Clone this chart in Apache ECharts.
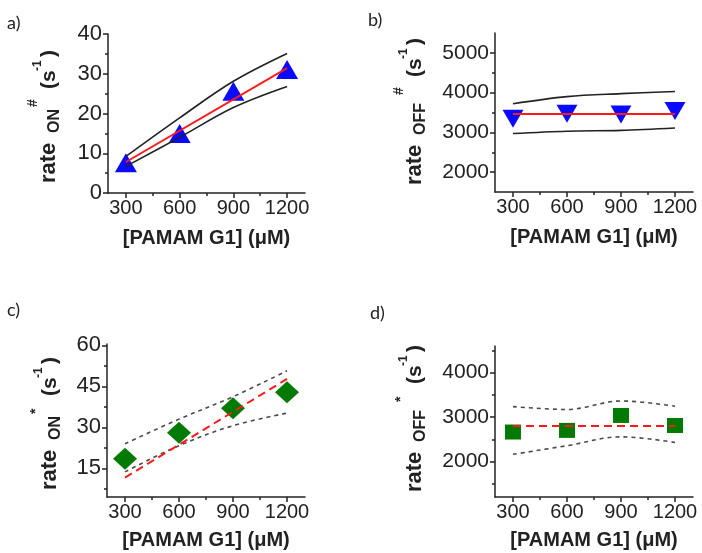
<!DOCTYPE html>
<html>
<head>
<meta charset="utf-8">
<script src="https://cdn.jsdelivr.net/npm/echarts@6/dist/echarts.min.js"></script>
<style>
  html, body { margin: 0; padding: 0; background: #fff; }
  #chart { width: 702px; height: 553px; }
</style>
</head>
<body>
<div id="chart"></div>
<script>
// PAMAM G1 concentrations (µM)
const concentrations = [300, 600, 900, 1200];
const fitEnds = [300, 1200];
const xMajorTicks = [300, 600, 900, 1200];
const xMinorTicks = [450, 750, 1050];

// (a) rate_ON^#
const onHashRates = [7.6, 15.0, 25.6, 31.1];
const onHashFit = [7.8, 31.4];
const onHashUpper = [9.2, 18.9, 28.1, 35.1];
const onHashLower = [6.7, 14.0, 21.5, 26.8];
const onHashMajorTicks = [0, 10, 20, 30, 40];
const onHashMinorTicks = [5, 15, 25, 35];

// (b) rate_OFF^#
const offHashRates = [3345, 3470, 3450, 3540];
const offHashFit = [3460, 3460];
const offHashUpper = [3720, 3900, 3975, 4030];
const offHashLower = [2970, 3030, 3050, 3110];
const offHashMajorTicks = [2000, 3000, 4000, 5000];
const offHashMinorTicks = [2500, 3500, 4500];

// (c) rate_ON^*
const onStarRates = [18.5, 28.0, 37.0, 42.8];
const onStarFit = [11.6, 47.7];
const onStarUpper = [24.0, 33.0, 41.2, 50.7];
const onStarLower = [13.7, 23.3, 30.6, 35.2];
const onStarMajorTicks = [15, 30, 45, 60];
const onStarMinorTicks = [7.5, 22.5, 37.5, 52.5];

// (d) rate_OFF^*
const offStarRates = [2663, 2700, 3036, 2810];
const offStarFit = [2800, 2800];
const offStarUpper = [3236, 3170, 3363, 3245];
const offStarLower = [2161, 2355, 2555, 2429];
const offStarMajorTicks = [2000, 3000, 4000];
const offStarMinorTicks = [1500, 2500, 3500, 4500];

const INK = '#222';
const TICK_FONT = '"Liberation Sans", Arial, sans-serif';
const plain = v => String(v);

const grids = [], xAxes = [], yAxes = [], series = [];

const pairs = (xs, ys) => xs.map((x, i) => [x, ys[i]]);

function addPanel(p) {
  const g = grids.length;
  grids.push({ left: p.box[0], top: p.box[1], width: p.box[2], height: p.box[3], containLabel: false });
  const ax = xAxes.length, ay = yAxes.length;
  // major x axis
  xAxes.push({
    type: 'value', gridIndex: g, position: 'bottom', min: 200, max: 1300,
    name: '[PAMAM G1] (\u03bcM)', nameLocation: 'middle', nameGap: p.nameGap, nameMoveOverlap: false,
    nameTextStyle: { fontFamily: TICK_FONT, fontWeight: 'bold', fontSize: 20, color: INK },
    axisLine: { lineStyle: { color: INK, width: 1.5 } },
    axisTick: { show: true, inside: false, length: 5, customValues: xMajorTicks, lineStyle: { color: INK, width: 1.5 } },
    axisLabel: { customValues: xMajorTicks, formatter: plain, fontFamily: TICK_FONT, fontSize: 20, color: INK, margin: 5 },
    splitLine: { show: false }
  });
  // minor x ticks
  xAxes.push({
    type: 'value', gridIndex: g, position: 'bottom', min: 200, max: 1300,
    axisLine: { show: false },
    axisTick: { show: true, length: 3, customValues: xMinorTicks, lineStyle: { color: INK, width: 1.5 } },
    axisLabel: { show: false }, splitLine: { show: false }
  });
  // major y axis
  yAxes.push({
    type: 'value', gridIndex: g, position: 'left', min: p.yMin, max: p.yMax,
    axisLine: { show: true, lineStyle: { color: INK, width: 1.5 } },
    axisTick: { show: true, length: 5, customValues: p.yMajor, lineStyle: { color: INK, width: 1.5 } },
    axisLabel: { customValues: p.yMajor, formatter: plain, fontFamily: TICK_FONT, fontSize: p.yFont, color: INK, margin: 6 },
    splitLine: { show: false }
  });
  // minor y ticks
  yAxes.push({
    type: 'value', gridIndex: g, position: 'left', min: p.yMin, max: p.yMax,
    axisLine: { show: false },
    axisTick: { show: true, length: 3, customValues: p.yMinor, lineStyle: { color: INK, width: 1.5 } },
    axisLabel: { show: false }, splitLine: { show: false }
  });

  series.push({
    type: 'scatter', xAxisIndex: ax, yAxisIndex: ay, z: 2,
    symbol: p.symbol, symbolSize: p.symbolSize, symbolRotate: p.symbolRotate || 0,
    itemStyle: { color: p.color, opacity: 1 },
    data: pairs(concentrations, p.rates)
  });
  [p.upper, p.lower].forEach(band => series.push({
    type: 'line', xAxisIndex: ax, yAxisIndex: ay, z: 3, smooth: 0.35,
    symbol: 'none', silent: true,
    lineStyle: { color: p.dashed ? '#4a4a4a' : INK, width: 1.6, type: p.dashed ? [4, 4] : 'solid' },
    data: pairs(concentrations, band)
  }));
  series.push({
    type: 'line', xAxisIndex: ax, yAxisIndex: ay, z: 4,
    symbol: 'none', silent: true,
    lineStyle: { color: '#ff1a1a', width: 2, type: p.dashed ? [8, 5] : 'solid' },
    data: pairs(fitEnds, p.fit)
  });
}

addPanel({ box: [108, 34, 197, 159], yMin: 0, yMax: 40, yMajor: onHashMajorTicks, yMinor: onHashMinorTicks,
  yFont: 22, nameGap: 35, rates: onHashRates, fit: onHashFit, upper: onHashUpper, lower: onHashLower,
  symbol: 'triangle', symbolSize: [22, 19], color: '#0a0aff', dashed: false });
addPanel({ box: [495, 33, 198, 159], yMin: 1500, yMax: 5500, yMajor: offHashMajorTicks, yMinor: offHashMinorTicks,
  yFont: 21, nameGap: 35, rates: offHashRates, fit: offHashFit, upper: offHashUpper, lower: offHashLower,
  symbol: 'triangle', symbolRotate: 180, symbolSize: [21, 18], color: '#0a0aff', dashed: false });
addPanel({ box: [107, 344, 198, 153], yMin: 4.5, yMax: 60.5, yMajor: onStarMajorTicks, yMinor: onStarMinorTicks,
  yFont: 22, nameGap: 33, rates: onStarRates, fit: onStarFit, upper: onStarUpper, lower: onStarLower,
  symbol: 'diamond', symbolSize: [24, 22], color: '#037a03', dashed: true });
addPanel({ box: [495, 346, 198, 151], yMin: 1200, yMax: 4600, yMajor: offStarMajorTicks, yMinor: offStarMinorTicks,
  yFont: 21, nameGap: 33, rates: offStarRates, fit: offStarFit, upper: offStarUpper, lower: offStarLower,
  symbol: 'rect', symbolSize: [16, 15], color: '#037a03', dashed: true });

// rotated y-axis titles: rate_{sub}^{sup} (s^-1)
function yTitle(x, y, sub, sup, subLen) {
  const font = s => `bold ${s}px "Liberation Sans", Arial, sans-serif`;
  const part = (text, lx, ly, size) => ({
    type: 'text', x: lx, y: ly,
    style: { text, font: font(size), fill: INK, align: 'left', verticalAlign: 'middle' }
  });
  const supX = 50 + subLen + 2;
  const parX = supX + 18;
  return {
    type: 'group', x, y, rotation: Math.PI / 2,
    children: [
      part('rate', 0, 0, 22),
      part(sub, 50, 6, 16),
      part(sup, supX, sup === '*' ? -14 : -16, 14),
      part('(s', parX, 0, 21),
      part('-1', parX + 18, -11, 12),
      part(')', parX + 32, 0, 21)
    ]
  };
}

function letter(text, x, y) {
  return { type: 'text', x, y, style: { text, font: '18px Lato, "Open Sans", sans-serif', fill: INK, align: 'left', verticalAlign: 'top' } };
}

const chart = echarts.init(document.getElementById('chart'), null, { renderer: 'canvas' });
chart.setOption({
  backgroundColor: '#fff',
  animation: false,
  grid: grids,
  xAxis: xAxes,
  yAxis: yAxes,
  series,
  graphic: [
    letter('a)', 7, 14), letter('b)', 368, 11), letter('c)', 7, 301), letter('d)', 370, 304),
    yTitle(49, 183, 'ON', '#', 24),
    yTitle(415, 185, 'OFF', '#', 38),
    yTitle(50, 490, 'ON', '*', 24),
    yTitle(415, 492, 'OFF', '*', 38)
  ]
});
</script>
</body>
</html>
